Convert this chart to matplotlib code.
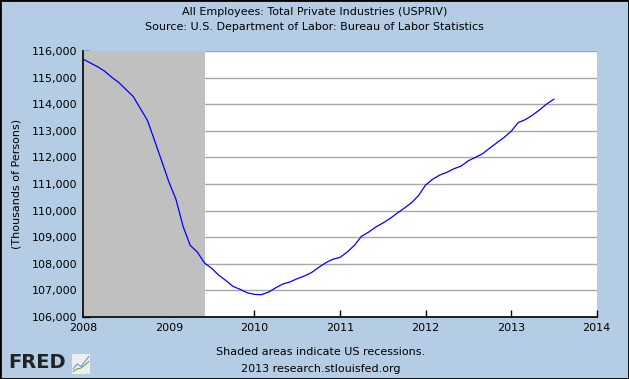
import numpy as np
import matplotlib
matplotlib.use("Agg")
import matplotlib.pyplot as plt
from matplotlib.patches import Rectangle

# Monthly values, Jan 2008 .. Jul 2013 (thousands of persons)
start_year = 2008
values = [
    115690, 115550, 115410, 115240, 115010, 114810, 114550, 114290, 113840, 113390, 112630, 111860,  # 2008
    111080, 110420, 109400, 108690, 108440, 108030, 107830, 107570, 107370, 107150, 107040, 106910,  # 2009
    106850, 106840, 106940, 107100, 107240, 107320, 107440, 107540, 107670, 107860, 108040, 108170,  # 2010
    108240, 108440, 108690, 109030, 109190, 109380, 109530, 109700, 109900, 110090, 110290, 110560,  # 2011
    110960, 111180, 111340, 111440, 111575, 111675, 111875, 112000, 112140, 112350, 112550, 112750,  # 2012
    112980, 113310, 113420, 113590, 113790, 114010, 114190,                                          # 2013
]
recession = (2008.0, 2009 + 5 / 12)
x_ticks = [2008, 2009, 2010, 2011, 2012, 2013, 2014]
y_ticks = list(range(106000, 116001, 1000))

dates = start_year + np.arange(len(values)) / 12.0

bg = "#B4CDE4"
fig = plt.figure(figsize=(6.29, 3.79), dpi=100, facecolor=bg)
ax = fig.add_axes([83.3 / 629, 1 - 317 / 379, (596.7 - 83.3) / 629, (317 - 51) / 379])
ax.set_facecolor("white")

for v in y_ticks:
    ax.axhline(v, color="#A8A8A8", linewidth=1.0, zorder=1)
ax.axvspan(*recession, color="#C0C0C0", linewidth=0, zorder=2)
ax.plot(dates, values, color="#0000FF", linewidth=0.9, zorder=3)

ax.set_xlim(2008, 2014)
ax.set_ylim(106000, 116000)
ax.set_xticks(x_ticks)
ax.set_yticks(y_ticks)
ax.set_yticklabels([f"{v:,}" for v in y_ticks])
ax.tick_params(direction="in", length=5, width=1, labelsize=8, colors="black", pad=4)
for s in ["top", "right"]:
    ax.spines[s].set_visible(False)
for s in ["left", "bottom"]:
    ax.spines[s].set_linewidth(1.2)
ax.set_ylabel("(Thousands of Persons)", fontsize=8, labelpad=8)

fig.text(0.5, 1 - 12 / 379, "All Employees: Total Private Industries (USPRIV)",
         ha="center", va="center", fontsize=8)
fig.text(0.5, 1 - 27 / 379, "Source: U.S. Department of Labor: Bureau of Labor Statistics",
         ha="center", va="center", fontsize=8)
fig.text(321 / 629, 1 - 352 / 379, "Shaded areas indicate US recessions.",
         ha="center", va="center", fontsize=8)
fig.text(321 / 629, 1 - 369 / 379, "2013 research.stlouisfed.org",
         ha="center", va="center", fontsize=8)

# FRED logo
fig.text(8 / 629, 1 - 362 / 379, "FRED", ha="left", va="center", fontsize=14,
         fontweight="heavy", color="#222222")
icon = fig.add_axes([72 / 629, 1 - 374 / 379, 18 / 629, 20 / 379])
icon.set_facecolor("#EEEEEE")
icon.plot([0, 1, 2, 3, 4], [1, 2, 1.5, 2.5, 3.5], color="#6699CC", linewidth=0.8)
icon.plot([0, 1, 2, 3, 4], [0.5, 1, 1.2, 1.8, 2.5], color="#66AA44", linewidth=0.8)
icon.set_xlim(-0.3, 4.3)
icon.set_ylim(0, 4)
icon.set_xticks([])
icon.set_yticks([])
for s in icon.spines.values():
    s.set_visible(False)

fig.patches.append(Rectangle((0, 0), 1, 1, transform=fig.transFigure, fill=False,
                             edgecolor="black", linewidth=2))

fig.savefig("out.png", dpi=100, facecolor=bg)
